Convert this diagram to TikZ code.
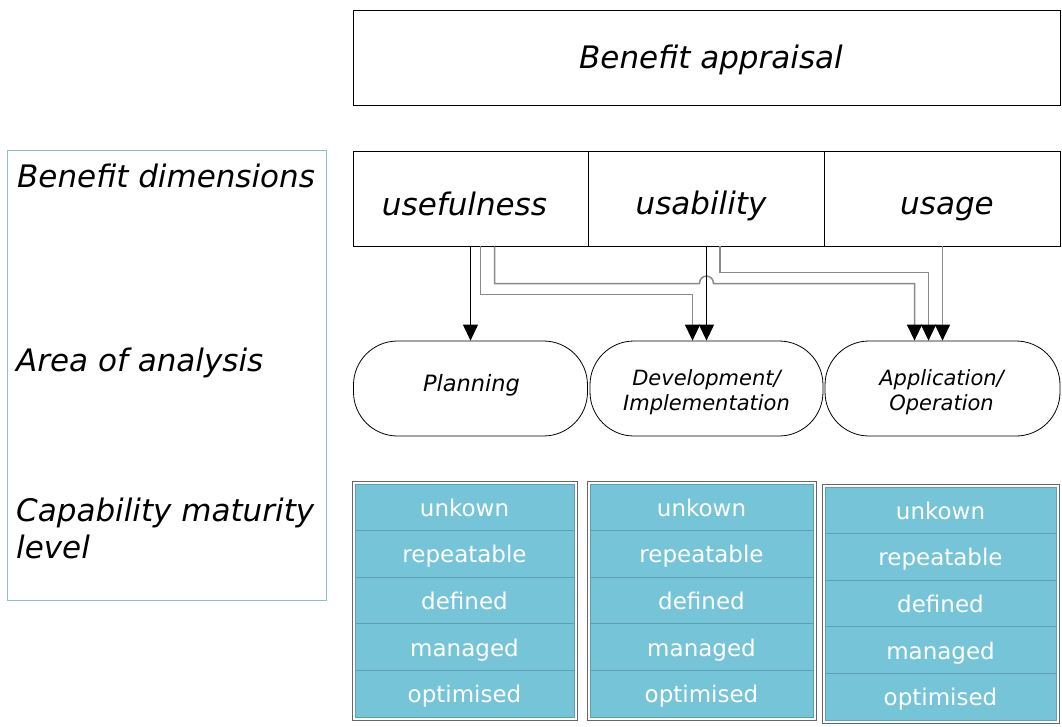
\documentclass[tikz,border=0pt]{standalone}
\usepackage{fontspec}
\setmainfont{DejaVu Sans}
\usetikzlibrary{arrows.meta,calc}
\definecolor{cellfill}{HTML}{76C4D8}
\definecolor{celledge}{HTML}{5C9FB0}
\definecolor{leftedge}{HTML}{94BEC6}
\definecolor{conngray}{HTML}{8A8A8A}
\begin{document}
\begin{tikzpicture}[x=1pt,y=-1pt,
  box/.style={draw=black,line width=0.9pt,inner sep=0pt,font=\fontsize{31}{37}\selectfont\itshape},
  dimbox/.style={box,minimum width=235pt,minimum height=95pt,text height=34pt,text depth=0pt},
  areabox/.style={draw=black,line width=0.8pt,rounded corners=44pt,minimum width=234pt,minimum height=95pt,inner sep=0pt},
  areatext/.style={inner sep=0pt,align=center,font=\fontsize{21}{25}\selectfont\itshape},
  sidelabel/.style={anchor=base west,inner sep=0pt,align=left,font=\fontsize{31}{37}\selectfont\itshape},
  cell/.style={draw=celledge,line width=0.7pt,fill=cellfill,text=white,inner sep=0pt,text height=20pt,text depth=2pt,font=\fontsize{23}{27}\selectfont},
  colframe/.style={draw=black!60,line width=0.8pt},
  tip/.style={-{Triangle[length=16pt,width=15pt,color=black]}},
  blk/.style={tip,draw=black,line width=1.1pt},
  gry/.style={tip,draw=conngray,line width=1.5pt}]
\useasboundingbox (0,0) rectangle (1062,726);

% left panel
\node[draw=leftedge,line width=1pt,minimum width=319pt,minimum height=450pt,inner sep=0pt] (leftpanel) at (166.5,375) {};
\node[sidelabel] (lbdim) at (17,187) {Benefit dimensions};
\node[sidelabel] (lbarea) at (16,371) {Area of analysis};
\node[sidelabel] (lbcmm) at (16,558) {Capability maturity\\level};

% top box
\node[box,minimum width=707pt,minimum height=95pt,text height=26pt,text depth=4pt] (appr) at (706.5,57.5) {Benefit appraisal\hspace*{-9pt}};

% benefit dimensions
\node[dimbox] (useful) at (470.5,198.5) {usefulness\hspace*{12pt}};
\node[dimbox,minimum width=236pt,text height=32pt] (usab) at (706,198.5) {usability\hspace*{10pt}};
\node[dimbox,minimum width=236pt,text height=32pt] (usage) at (942,198.5) {\hspace*{10pt}usage};

% areas of analysis
\node[areabox] (plan) at (470.5,388.5) {};
\node[areabox,minimum width=233pt] (dev) at (706.5,388.5) {};
\node[areabox,minimum width=235pt] (app) at (942.5,388.5) {};
\node[areatext,font=\fontsize{22.5}{26}\selectfont\itshape] (plantxt) at ($(plan.center)+(1,-3)$) {Planning};
\node[areatext] (devtxt) at ($(dev.center)+(0,4)$) {Development/\\Implementation};
\node[areatext] (apptxt) at ($(app.center)+(-1,4)$) {Application/\\Operation};

% connectors
\draw[blk] (useful.south -| plan.north) -- (plan.north);
\draw[gry] ([xshift=10pt]useful.south) |- ($(dev.north)+(-14,-46)$) -- ([xshift=-14pt]dev.north);
\draw[gry] ([xshift=24pt]useful.south) |- ($(dev.north)+(-7,-57)$)
  .. controls ($(dev.north)+(-7,-67)$) and ($(dev.north)+(7,-67)$) .. ($(dev.north)+(7,-57)$)
  -| ([xshift=-28pt]app.north);
\draw[blk] (usab.south -| dev.north) -- (dev.north);
\draw[gry] ([xshift=14pt]usab.south) |- ($(app.north)+(-14,-68)$) -- ([xshift=-14pt]app.north);
\draw[gry] (usage.south -| app.north) -- (app.north);

% capability maturity levels
\foreach \col/\cx/\w/\top in {1/464.5/219/484, 2/701.5/223/484, 3/940.5/231/487} {
  \foreach \i/\t in {0/unkown,1/repeatable,2/defined,3/managed,4/optimised} {
    \node[cell,minimum width=\w pt,minimum height=46.6pt] (c\col\i) at (\cx,{\top+23.3+46.6*\i}) {\t};
  }
  \draw[colframe] ($(c\col0.north west)+(-2,-2)$) rectangle ($(c\col4.south east)+(3,3)$);
}
\end{tikzpicture}
\end{document}
